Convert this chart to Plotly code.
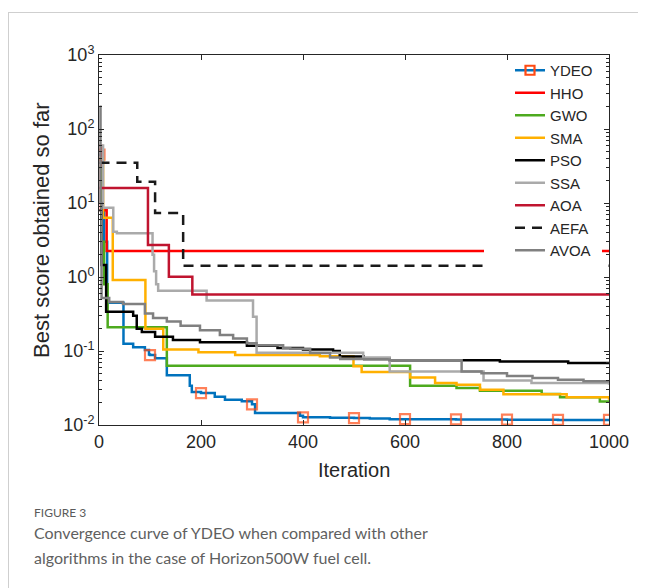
import plotly.graph_objects as go

# ---------------- data ----------------
ydeo_iter = [1, 5, 10, 16, 48, 67, 90, 98, 100, 110, 133, 178, 182, 200, 227, 247, 280, 300, 306, 394, 400, 453, 500, 531, 570, 600, 700, 800, 900, 1000]
ydeo_val = [45, 8, 3, 0.45, 0.125, 0.112, 0.103, 0.09, 0.088, 0.08, 0.047, 0.034, 0.028, 0.027, 0.024, 0.022, 0.021, 0.019, 0.0145, 0.0133, 0.0127, 0.0125, 0.0124, 0.0122, 0.012, 0.012, 0.0119, 0.0118, 0.0117, 0.0117]

hho_iter = [1, 4, 15, 1000]
hho_val = [60, 8, 2.25, 2.25]

gwo_iter = [1, 5, 10, 17, 133, 610, 701, 747, 868, 904, 982, 1000]
gwo_val = [30, 3, 0.8, 0.21, 0.063, 0.034, 0.0316, 0.029, 0.0263, 0.0237, 0.0207, 0.0205]

sma_iter = [1, 8, 27, 91, 126, 195, 267, 433, 499, 515, 610, 659, 701, 747, 793, 917, 1000]
sma_val = [40, 6.3, 0.91, 0.2, 0.105, 0.096, 0.088, 0.085, 0.062, 0.052, 0.044, 0.037, 0.035, 0.030, 0.026, 0.0238, 0.022]

pso_iter = [1, 5, 14, 67, 74, 84, 110, 145, 198, 290, 350, 400, 459, 472, 519, 570, 786, 920, 1000]
pso_val = [8, 1.45, 0.34, 0.30, 0.20, 0.18, 0.156, 0.141, 0.131, 0.118, 0.11, 0.105, 0.10, 0.084, 0.08, 0.075, 0.072, 0.069, 0.068]

ssa_iter = [1, 8, 28, 35, 105, 108, 112, 116, 211, 302, 309, 518, 570, 754, 848, 1000]
ssa_val = [60, 8.6, 4.1, 3.9, 2.0, 1.2, 0.8, 0.65, 0.48, 0.29, 0.095, 0.082, 0.053, 0.040, 0.037, 0.035]

aoa_iter = [1, 96, 137, 183, 1000]
aoa_val = [16, 2.7, 1.01, 0.58, 0.57]

aefa_iter = [1, 75, 110, 165, 1000]
aefa_val = [35, 19.4, 7.3, 1.42, 1.42]

avoa_iter = [1, 3, 5, 20, 47, 90, 106, 133, 160, 198, 237, 263, 290, 309, 361, 375, 414, 453, 473, 520, 570, 711, 750, 800, 850, 900, 950, 1000]
avoa_val = [200, 10, 0.52, 0.46, 0.43, 0.32, 0.28, 0.25, 0.22, 0.19, 0.165, 0.148, 0.127, 0.12, 0.109, 0.107, 0.094, 0.082, 0.078, 0.077, 0.075, 0.053, 0.05, 0.046, 0.043, 0.041, 0.039, 0.038]

names = ["YDEO", "HHO", "GWO", "SMA", "PSO", "SSA", "AOA", "AEFA", "AVOA"]
colors = ["#0072BD", "#FF0000", "#4DAA1E", "#FFB000", "#000000", "#AAAAAA", "#C0142F", "#1A1A1A", "#808080"]
marker_color = "#FF4A12"

x_ticks = [0, 200, 400, 600, 800, 1000]
y_ticks = [0.01, 0.1, 1, 10, 100, 1000]
y_ticktext = ["10<sup>-2</sup>", "10<sup>-1</sup>", "10<sup>0</sup>", "10<sup>1</sup>", "10<sup>2</sup>", "10<sup>3</sup>"]
y_minor = [m * 10 ** e for e in range(-2, 3) for m in range(2, 10)]

marker_every = 100

# ---------------- layout geometry (page pixels) ----------------
PAGE_W, PAGE_H = 646, 588
OFF = 8                       # default body margin of the html page
L, R, T, B = 99, 609, 55, 425  # plot area in page pixels


def px(xp):
    return (xp - L) / (R - L)


def py(yp):
    return (B - yp) / (B - T)


FONT = "Liberation Sans, Arial, sans-serif"
AXC = "#262626"

fig = go.Figure()

series = [
    (ydeo_iter, ydeo_val), (hho_iter, hho_val), (gwo_iter, gwo_val), (sma_iter, sma_val),
    (pso_iter, pso_val), (ssa_iter, ssa_val), (aoa_iter, aoa_val), (aefa_iter, aefa_val),
    (avoa_iter, avoa_val),
]

for name, col, (xs, ys) in zip(names, colors, series):
    if name == "YDEO":
        # legend entry (line + square marker)
        fig.add_trace(go.Scatter(
            x=[None], y=[None], name=name, mode="lines+markers", legendgroup=name,
            line=dict(color=col, width=2.5),
            marker=dict(symbol="square-open", color=marker_color, size=9,
                        line=dict(width=2.2, color=marker_color)),
        ))
        is_m = [(it == 1 or it % marker_every == 0) for it in xs]
        fig.add_trace(go.Scatter(
            x=xs, y=ys, name=name, mode="lines+markers", legendgroup=name, showlegend=False,
            line=dict(color=col, width=2.5, shape="hv"),
            marker=dict(symbol="square-open", color=marker_color,
                        size=[10 if m else 0 for m in is_m],
                        line=dict(width=[2.2 if m else 0 for m in is_m], color=marker_color)),
        ))
    else:
        fig.add_trace(go.Scatter(
            x=xs, y=ys, name=name, mode="lines",
            line=dict(color=col, width=2.5, shape="hv",
                      dash="10px,7px" if name == "AEFA" else "solid"),
        ))

fig.update_layout(
    width=PAGE_W - OFF, height=PAGE_H - OFF,
    margin=dict(l=L - OFF, r=PAGE_W - R, t=T - OFF, b=PAGE_H - B, pad=0),
    paper_bgcolor="white", plot_bgcolor="white",
    font=dict(family=FONT, color=AXC),
    showlegend=True,
    legend=dict(
        x=px(510), y=py(54), xanchor="left", yanchor="top",
        bgcolor="rgba(0,0,0,0)", borderwidth=0, tracegroupgap=0,
        font=dict(family=FONT, size=15, color=AXC),
        itemwidth=30,
    ),
    xaxis=dict(
        range=[0, 1000], tickvals=x_ticks, ticks="inside", ticklen=5, tickwidth=1,
        tickcolor=AXC, showline=True, linecolor=AXC, linewidth=1, mirror="allticks",
        showgrid=False, zeroline=False,
        tickfont=dict(family=FONT, size=18, color=AXC),
    ),
    yaxis=dict(
        type="log", range=[-2, 3], tickvals=y_ticks, ticktext=y_ticktext,
        ticks="inside", ticklen=5, tickwidth=1, tickcolor=AXC,
        showline=True, linecolor=AXC, linewidth=1, mirror="allticks",
        showgrid=False, zeroline=False,
        tickfont=dict(family=FONT, size=18, color=AXC),
        minor=dict(tickvals=y_minor, ticks="inside", ticklen=3, tickcolor=AXC, showgrid=False),
    ),
)

# white background behind the legend (hides lines, like the MATLAB legend box)
fig.add_shape(type="rect", xref="paper", yref="paper",
              x0=px(484), x1=px(602), y0=py(268), y1=py(60),
              fillcolor="white", line=dict(width=0), layer="above")

# card border
fig.add_shape(type="line", xref="paper", yref="paper",
              x0=px(8), x1=px(646), y0=py(12.5), y1=py(12.5),
              line=dict(color="#CFCFCF", width=1))
fig.add_shape(type="line", xref="paper", yref="paper",
              x0=px(8.5), x1=px(8.5), y0=py(12.5), y1=py(588),
              line=dict(color="#CFCFCF", width=1))

# axis titles
fig.add_annotation(text="Iteration", xref="paper", yref="paper", x=px(354), y=py(470),
                   showarrow=False, xanchor="center", yanchor="middle",
                   font=dict(family=FONT, size=20, color=AXC))
fig.add_annotation(text="Best score obtained so far", xref="paper", yref="paper",
                   x=px(41), y=py(230), textangle=-90, showarrow=False,
                   xanchor="center", yanchor="middle",
                   font=dict(family=FONT, size=22, color=AXC))

# caption
CAP = "Lato, Open Sans, sans-serif"
fig.add_annotation(text="FIGURE 3", xref="paper", yref="paper", x=px(32), y=py(512),
                   showarrow=False, xanchor="left", yanchor="middle",
                   font=dict(family=CAP, size=12, color="#5A5A5A"))
fig.add_annotation(text="Convergence curve of YDEO when compared with other",
                   xref="paper", yref="paper", x=px(32), y=py(532),
                   showarrow=False, xanchor="left", yanchor="middle",
                   font=dict(family=CAP, size=16, color="#5F5F5F"))
fig.add_annotation(text="algorithms in the case of Horizon500W fuel cell.",
                   xref="paper", yref="paper", x=px(32), y=py(557),
                   showarrow=False, xanchor="left", yanchor="middle",
                   font=dict(family=CAP, size=16, color="#5F5F5F"))

fig.write_html("out.html")
